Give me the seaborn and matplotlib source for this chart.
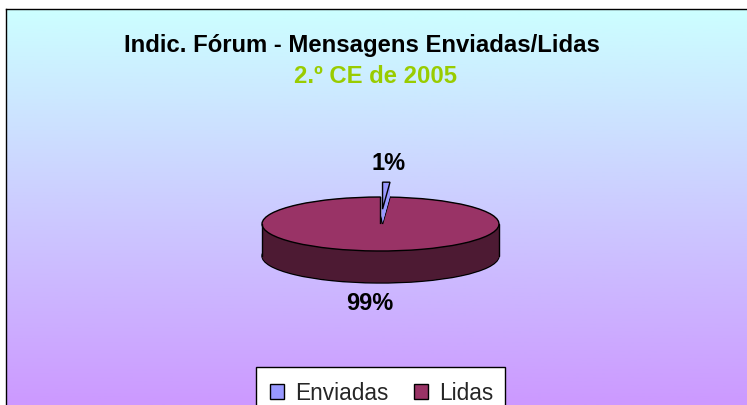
import numpy as np
import matplotlib
matplotlib.use("Agg")
import matplotlib.pyplot as plt
import seaborn as sns
from matplotlib.colors import LinearSegmentedColormap
from matplotlib.patches import Rectangle

# dados do gráfico
labels = ["Enviadas", "Lidas"]
values = [1, 99]
pct_labels = ["1%", "99%"]
top_colors = ["#9999FF", "#993366"]
side_colors = ["#9999FF", "#4D1A33"]
title = "Indic. Fórum - Mensagens Enviadas/Lidas"
subtitle = "2.º CE de 2005"

sns.set_theme(style="white")
plt.rcParams["font.family"] = ["Liberation Sans", "DejaVu Sans"]

W, H = 747, 405
fig = plt.figure(figsize=(W / 100, H / 100), dpi=100)
fig.patch.set_facecolor("white")

# fundo em degradê com borda
bg = fig.add_axes([6 / W, 0, 1 - 6 / W, 1 - 9 / H])
grad = np.linspace(0, 1, 256).reshape(-1, 1)
cmap = LinearSegmentedColormap.from_list("bg", ["#CCFFFF", "#CC99FF"])
bg.imshow(grad, aspect="auto", cmap=cmap, extent=[0, 1, 0, 1], origin="upper")
bg.set_xticks([])
bg.set_yticks([])
for s in ["right", "bottom"]:
    bg.spines[s].set_visible(False)
for s in ["left", "top"]:
    bg.spines[s].set_color("black")
    bg.spines[s].set_linewidth(1)

# eixo da pizza (elipse: x em unidades de rx, y em unidades de ry)
cx, cy = 380.5, 224
rx, ry = 118.5, 27
depth = 32 / ry
env_depth = 0.55
explode = [0.55, 0]
ax = fig.add_axes([0, 0, 1, 1])
ax.patch.set_alpha(0)

pie_kw = dict(startangle=90, counterclock=False, explode=explode, radius=1)

# lateral das Lidas
for i, z in enumerate(np.linspace(depth, 0, 45)):
    lw = 1 if i == 0 else 0
    w, _ = ax.pie(values, colors=["none", side_colors[1]], center=(0, -z),
                  wedgeprops=dict(edgecolor="black" if lw else "none", linewidth=lw), **pie_kw)
    w[0].set_visible(False)
for xe in (-1, 1):
    ax.plot([xe, xe], [0, -depth], color="black", lw=1, zorder=3)

# topo das Lidas
top_w, _ = ax.pie(values, colors=["none", top_colors[1]], center=(0, 0),
                  wedgeprops=dict(edgecolor="black", linewidth=1), **pie_kw)
top_w[0].set_visible(False)
lidas_handle = top_w[1]

# fatia destacada (Enviadas)
for i, z in enumerate(np.linspace(env_depth, 0, 20)):
    ec = "black" if i in (0, 19) else "none"
    w, _ = ax.pie(values, colors=[side_colors[0] if i < 19 else top_colors[0], "none"],
                  center=(0, -z), wedgeprops=dict(edgecolor=ec, linewidth=1), **pie_kw)
    w[1].set_visible(False)
    for p in w:
        p.set_zorder(4)
env_handle = w[0]

# rótulos de percentagem
label_r = [2.26, 2.96]
ends = np.cumsum(values)
total = float(sum(values))
for v, e, txt, r in zip(values, ends, pct_labels, label_r):
    theta = np.deg2rad(90 - 360 * (e - v / 2) / total)
    ax.text(r * np.cos(theta), r * np.sin(theta), txt, ha="center", va="center",
            fontsize=17, fontweight="bold", color="black", zorder=5)

ax.set_aspect("auto")
ax.set_xlim(-cx / rx, (W - cx) / rx)
ax.set_ylim((cy - H) / ry, cy / ry)
ax.axis("off")

# títulos
fig.text(362 / W, 1 - 52 / H, title, ha="center", va="baseline",
         fontsize=17.2, fontweight="bold", color="black")
fig.text(375 / W, 1 - 83 / H, subtitle, ha="center", va="baseline",
         fontsize=17.2, fontweight="bold", color="#99CC00")

# legenda (caixa cortada pela borda inferior, como no original)
ax.add_patch(Rectangle((256 / W, -8 / H), 249 / W, (H - 367 + 8) / H,
                       transform=fig.transFigure, facecolor="white", clip_on=False,
                       edgecolor="black", linewidth=1, zorder=6))
leg = ax.legend([env_handle, lidas_handle], labels, ncol=2, loc="upper left",
                bbox_to_anchor=(256 / W, 1 - 368 / H), bbox_transform=fig.transFigure,
                borderaxespad=0, frameon=False, fontsize=16.3, handlelength=0.64,
                handleheight=0.64, handletextpad=0.5, columnspacing=1.1, borderpad=0.6)
leg.set_zorder(7)

fig.savefig("out.png", dpi=100)
